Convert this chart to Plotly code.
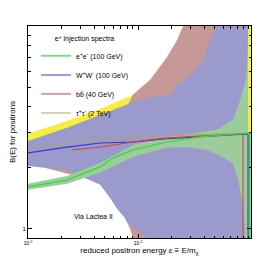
import plotly.graph_objects as go

# ---- data (epsilon = E/m_chi, B(E)) ----
# tau+tau- (2 TeV) band
tau_eps = [0.01, 0.0226, 0.0452, 0.0901, 0.1285, 0.2, 0.3, 0.5, 0.8, 1.0, 1.064]
tau_hi = [2.94, 3.40, 3.90, 4.57, 4.95, 5.8, 6.8, 8.5, 10.5, 12, 12]
tau_lo = [2.4, 2.5, 2.6, 2.7, 2.75, 2.8, 2.85, 2.9, 2.93, 2.95, 2.97]

# b bbar (40 GeV) band
bb_hi_eps = [0.01, 0.0452, 0.0794, 0.0901, 0.1285, 0.1836, 0.2264, 0.2565, 0.4, 0.9006]
bb_hi = [2.6, 3.5, 4.0, 4.6, 5.42, 7.03, 8.53, 10.0, 12, 12]
bb_lo_eps = [0.01, 0.0452, 0.0686, 0.0794, 0.0846, 0.0901, 0.1, 0.9006]
bb_lo = [2.1, 1.7, 1.25, 1.08, 1.0, 0.903, 0.8, 0.8]

# W+W- (100 GeV) band
ww_hi_eps = [0.01, 0.0226, 0.0452, 0.0901, 0.1285, 0.1954, 0.2264, 0.251, 0.316, 0.39, 0.4516, 0.5227, 0.6, 1.0]
ww_hi = [2.71, 3.15, 3.64, 4.22, 4.47, 4.57, 5.12, 5.30, 5.87, 6.80, 8.53, 10.0, 12, 12]
ww_lo_eps = [0.01, 0.0226, 0.0452, 0.0557, 0.0658, 0.0762, 0.0794, 0.098, 0.1158, 0.13, 1.0]
ww_lo = [2.04, 1.95, 1.65, 1.42, 1.24, 1.13, 1.08, 0.989, 0.903, 0.8, 0.8]

# e+e- (100 GeV) band
ee_hi_eps = [0.01, 0.0226, 0.0452, 0.0901, 0.1836, 0.297, 0.5227, 0.731, 0.846, 0.939, 0.979, 0.995, 1.0, 1.003, 1.064]
ee_hi = [1.67, 1.82, 2.11, 2.59, 2.84, 2.94, 3.08, 3.45, 4.3, 5.2, 6.3, 8.3, 11, 2.97, 2.97]
ee_lo_eps = [0.01, 0.0226, 0.0452, 0.0901, 0.1836, 0.279, 0.424, 0.593, 0.731, 0.811, 0.882, 0.92, 0.95, 1.064]
ee_lo = [1.56, 1.67, 1.89, 2.26, 2.51, 2.53, 2.45, 2.26, 2.1, 1.75, 1.38, 1.1, 0.88, 0.8]

# central curves
ee_line_eps = [0.01, 0.0226, 0.0452, 0.0593, 0.0901, 0.1836, 0.366, 0.731, 0.979, 1.032, 1.032]
ee_line = [1.61, 1.74, 2.02, 2.24, 2.45, 2.68, 2.84, 2.94, 2.97, 2.97, 0.8]
ww_line_eps = [0.01, 0.0226, 0.0452, 0.0901, 0.1836, 0.366, 0.979, 1.0, 1.0]
ww_line = [2.37, 2.53, 2.65, 2.68, 2.78, 2.84, 2.94, 2.94, 0.8]
bb_line_eps = [0.0251, 0.0452, 0.0901, 0.1836, 0.366, 0.9006, 0.9006]
bb_line = [2.45, 2.53, 2.68, 2.81, 2.87, 2.94, 0.8]
tau_line_eps = [0.01, 0.0226, 0.0452, 0.0901, 0.1836, 0.366, 0.979]
tau_line = [2.51, 2.64, 2.74, 2.82, 2.88, 2.92, 2.97]

x_major = [0.01, 0.1]
x_major_text = ["10<sup>-2</sup>", "10<sup>-1</sup>"]
x_minor = [0.02, 0.03, 0.04, 0.05, 0.06, 0.07, 0.08, 0.09,
           0.2, 0.3, 0.4, 0.5, 0.6, 0.7, 0.8, 0.9, 1.0]
y_major = [1]
y_major_text = ["1"]
y_minor = [2, 3, 4, 5, 6, 7, 8, 9]

FONT = "Liberation Sans, Arial, Helvetica, sans-serif"

fig = go.Figure()


def band(xh, yh, xl, yl, color):
    fig.add_trace(go.Scatter(
        x=list(xh) + list(xl)[::-1], y=list(yh) + list(yl)[::-1],
        fill="toself", fillcolor=color, mode="none", showlegend=False,
        hoverinfo="skip"))


band(tau_eps, tau_hi, tau_eps, tau_lo, "#f6ee3c")
band(bb_hi_eps, bb_hi, bb_lo_eps, bb_lo, "#c69898")
band(ww_hi_eps, ww_hi, ww_lo_eps, ww_lo, "#9a9acc")
band(ee_hi_eps, ee_hi, ee_lo_eps, ee_lo, "#9ccc9c")

fig.add_trace(go.Scatter(x=tau_line_eps, y=tau_line, mode="lines",
                         line=dict(color="#b0a468", width=1),
                         name="τ<sup>+</sup>τ<sup>-</sup> (2 TeV)", legendrank=4))
fig.add_trace(go.Scatter(x=ww_line_eps, y=ww_line, mode="lines",
                         line=dict(color="#3535dd", width=1.1),
                         name="W<sup>+</sup>W<sup>-</sup> (100 GeV)", legendrank=2))
fig.add_trace(go.Scatter(x=bb_line_eps, y=bb_line, mode="lines",
                         line=dict(color="#dd3a3a", width=1),
                         name="bb\u0304 (40 GeV)", legendrank=3))
fig.add_trace(go.Scatter(x=ee_line_eps, y=ee_line, mode="lines",
                         line=dict(color="#33dd33", width=1.2),
                         name="e<sup>+</sup>e<sup>-</sup> (100 GeV)", legendrank=1))

fig.add_annotation(text="Via Lactea II", x=0.197, y=0.075, xref="paper", yref="paper",
                   showarrow=False, font=dict(size=7, color="black", family=FONT))

axis_common = dict(type="log", showgrid=False, zeroline=False, showline=True,
                   linecolor="black", linewidth=1, mirror="ticks", ticks="inside",
                   ticklen=4, tickcolor="black", tickwidth=1, automargin=False)

fig.update_xaxes(range=[-2.0, 0.027], tickvals=x_major, ticktext=x_major_text,
                 tickfont=dict(size=5, family=FONT, color="black"),
                 minor=dict(tickvals=x_minor, ticks="inside", ticklen=2.5, tickcolor="black"),
                 title=dict(text="reduced positron energy ε ≡ E/m<sub>χ</sub>",
                            font=dict(size=8, family=FONT, color="black"), standoff=2),
                 **axis_common)
fig.update_yaxes(range=[-0.045, 1.0], tickvals=y_major, ticktext=y_major_text,
                 tickfont=dict(size=6, family=FONT, color="black"),
                 minor=dict(tickvals=y_minor, ticks="inside", ticklen=2.5, tickcolor="black"),
                 title=dict(text="B(E) for positrons",
                            font=dict(size=8, family=FONT, color="black"), standoff=6),
                 **axis_common)

# the page body has an 8px margin, so the figure is sized/margined to land
# the plot area where it sits in the reference window
fig.update_layout(
    width=262, height=249,
    margin=dict(l=20, r=19, t=18, b=19, autoexpand=False),
    plot_bgcolor="white", paper_bgcolor="white",
    font=dict(family=FONT, size=7, color="black"),
    legend=dict(x=0.036, y=0.97, xanchor="left", yanchor="top",
                bgcolor="rgba(0,0,0,0)", font=dict(size=7, family=FONT, color="black"),
                title=dict(text="e<sup>+</sup> injection spectra", side="top center",
                           font=dict(size=7, family=FONT, color="black"))),
)

fig.write_html("out.html")
